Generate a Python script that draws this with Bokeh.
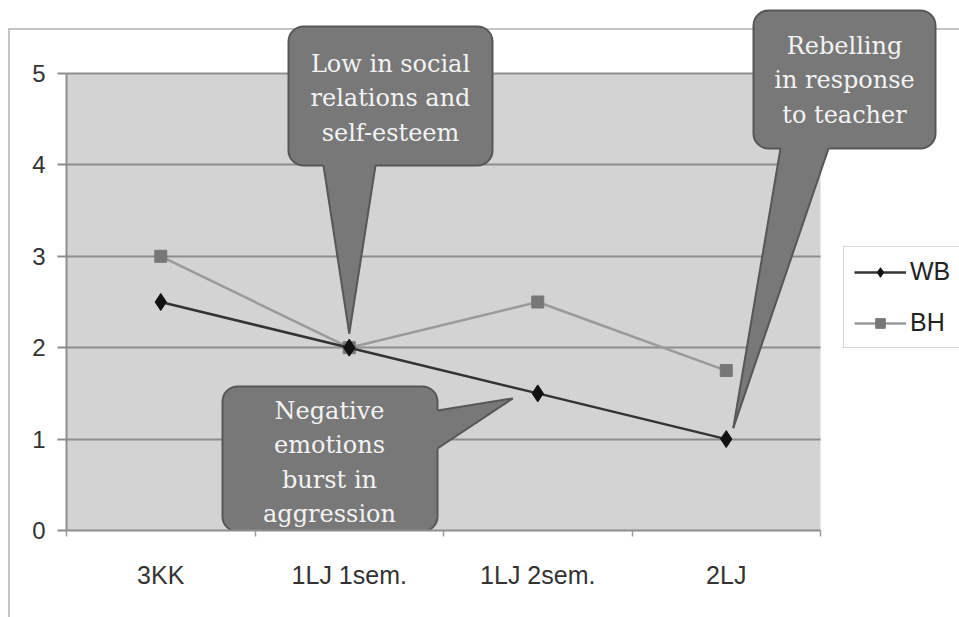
import math
from bokeh.plotting import figure
from bokeh.models import Range1d, FixedTicker, Legend, LegendItem
from bokeh.embed import file_html
from bokeh.resources import INLINE
from bokeh.core.properties import value

# ---------------- data ----------------
categories = ["3KK", "1LJ 1sem.", "1LJ 2sem.", "2LJ"]
wb = [2.5, 2.0, 1.5, 1.0]
bh = [3.0, 2.0, 2.5, 1.75]
y_ticks = [0, 1, 2, 3, 4, 5]
note_low = ["Low in social", "relations and", "self-esteem"]
note_rebel = ["Rebelling", "in response", "to teacher"]
note_neg = ["Negative", "emotions", "burst in", "aggression"]

n = len(categories)
xs = [i + 0.5 for i in range(n)]
ymax = max(y_ticks)

# ---------------- geometry ----------------
W, H = 959, 617
LEFT, BOTTOM = 66, 87
frame_w = W - LEFT
frame_h = H - BOTTOM
PX_X = 188.5   # pixels per category
PX_Y = 91.4    # pixels per unit
PAGE_X0 = LEFT          # page x of data x=0
PAGE_Y0 = frame_h       # page y of data y=0


def X(px):
    return (px - PAGE_X0) / PX_X


def Y(py):
    return (PAGE_Y0 - py) / PX_Y


def page_of(xd, yd):
    return PAGE_X0 + xd * PX_X, PAGE_Y0 - yd * PX_Y


p = figure(width=W, height=H,
           x_range=Range1d(0, frame_w / PX_X), y_range=Range1d(0, frame_h / PX_Y),
           output_backend="svg", toolbar_location=None,
           min_border_left=LEFT, min_border_right=0, min_border_top=0,
           min_border_bottom=BOTTOM)
p.border_fill_color = None
p.background_fill_color = None
p.outline_line_color = None
p.styles = {
    "background": "linear-gradient(#c4c4c4, #c4c4c4) 8px 28px / 100% 2px no-repeat, "
                  "linear-gradient(#c4c4c4, #c4c4c4) 8px 28px / 2px 100% no-repeat, white"
}

# plot area background
p.quad(left=0, right=n, bottom=0, top=ymax, fill_color="#d3d3d3",
       line_color=None, level="image")

# grid
p.xgrid.grid_line_color = None
p.ygrid.ticker = FixedTicker(ticks=y_ticks)
p.ygrid.grid_line_color = "#8d8d8d"
p.ygrid.grid_line_width = 2
p.ygrid.cross_bounds = (0, n)

# axes
ya = p.yaxis[0]
ya.ticker = FixedTicker(ticks=y_ticks)
ya.bounds = (0, ymax)
ya.axis_line_color = "#8d8d8d"
ya.axis_line_width = 2
ya.major_tick_line_color = "#8d8d8d"
ya.major_tick_line_width = 2
ya.major_tick_out = 9
ya.major_tick_in = 0
ya.minor_tick_line_color = None
ya.major_label_standoff = 12
ya.major_label_text_font = "Liberation Sans"
ya.major_label_text_font_size = "24px"
ya.major_label_text_color = "#333333"

xa = p.xaxis[0]
xa.ticker = FixedTicker(ticks=xs, minor_ticks=list(range(n + 1)))
xa.bounds = (0, n)
xa.major_label_overrides = {xv: c for xv, c in zip(xs, categories)}
xa.axis_line_color = "#8d8d8d"
xa.axis_line_width = 2
xa.major_tick_line_color = None
xa.major_tick_out = 0
xa.major_tick_in = 0
xa.minor_tick_line_color = "#9a9a9a"
xa.minor_tick_line_width = 1.5
xa.minor_tick_out = 6
xa.minor_tick_in = 0
xa.major_label_standoff = 24
xa.major_label_text_font = "Liberation Sans"
xa.major_label_text_font_size = "25px"
xa.major_label_text_color = "#333333"

# series
bh_line = p.line(xs, bh, line_color="#9a9a9a", line_width=2.5)
bh_pts = p.scatter(xs, bh, marker="square", size=12, fill_color="#777777",
                   line_color="#777777")
wb_line = p.line(xs, wb, line_color="#333333", line_width=2.5)
wb_pts = p.scatter(xs, wb, marker="diamond", size=17,
                   fill_color="#111111", line_color="#111111")

# ---------------- callouts ----------------
FILL = "#787878"
EDGE = "#575757"


def callout(box, base, tip, lines, tx, ty0, dy=34.5):
    l, r, t, b = box
    # box
    p.quad(left=[X(l)], right=[X(r)], top=[Y(t)], bottom=[Y(b)],
           fill_color=FILL, line_color=EDGE, line_width=2, border_radius=15)
    # pointer: fill extended slightly into the box to hide the box edge
    (b1x, b1y), (b2x, b2y) = base
    txp, typ = tip
    mx, my = (b1x + b2x) / 2, (b1y + b2y) / 2
    L = math.hypot(mx - txp, my - typ)
    k = (L + 4) / L
    e1 = (txp + (b1x - txp) * k, typ + (b1y - typ) * k)
    e2 = (txp + (b2x - txp) * k, typ + (b2y - typ) * k)
    p.patch([X(e1[0]), X(txp), X(e2[0])], [Y(e1[1]), Y(typ), Y(e2[1])],
            fill_color=FILL, line_color=None)
    p.multi_line([[X(b1x), X(txp)], [X(b2x), X(txp)]],
                 [[Y(b1y), Y(typ)], [Y(b2y), Y(typ)]],
                 line_color=EDGE, line_width=2)
    p.text(x=[X(tx)] * len(lines), y=[Y(ty0 + i * dy) for i in range(len(lines))],
           text=lines, text_align="center", text_baseline="middle",
           text_font=value("DejaVu Serif"), text_font_size="24px",
           text_color="#f3f3f3")


# Low in social relations: points at 1LJ 1sem.
tx1, ty1 = page_of(xs[1], wb[1])
callout((288, 492, 26, 165), ((323, 165), (375, 165)), (tx1, ty1 - 14),
        note_low, 390, 63)

# Rebelling: points at 2LJ (WB)
tx2, ty2 = page_of(xs[3], wb[3])
callout((753, 935, 10, 148), ((780, 148), (828, 148)), (tx2 + 7, ty2 - 11),
        note_rebel, 844, 45)

# Negative emotions: points towards 1LJ 2sem. (WB)
tx3, ty3 = page_of(xs[2], wb[2])
callout((222, 437, 386, 531), ((437, 410), (437, 448)), (tx3 - 25, ty3 + 5),
        note_neg, 329, 410)

# ---------------- legend ----------------
legend = Legend(items=[LegendItem(label="WB", renderers=[wb_line, wb_pts]),
                       LegendItem(label="BH", renderers=[bh_line, bh_pts])],
                location=(843 - PAGE_X0, PAGE_Y0 - 348))
legend.border_line_color = "#b0b0b0"
legend.border_line_width = 1.5
legend.background_fill_color = "white"
legend.background_fill_alpha = 1
legend.label_text_font = "Liberation Sans"
legend.label_text_font_size = "25px"
legend.label_text_color = "#222222"
legend.glyph_width = 52
legend.glyph_height = 24
legend.label_height = 24
legend.spacing = 22
legend.padding = 10
legend.label_standoff = 4
legend.margin = 0
p.add_layout(legend)

open("out.html", "w").write(file_html(p, INLINE))
